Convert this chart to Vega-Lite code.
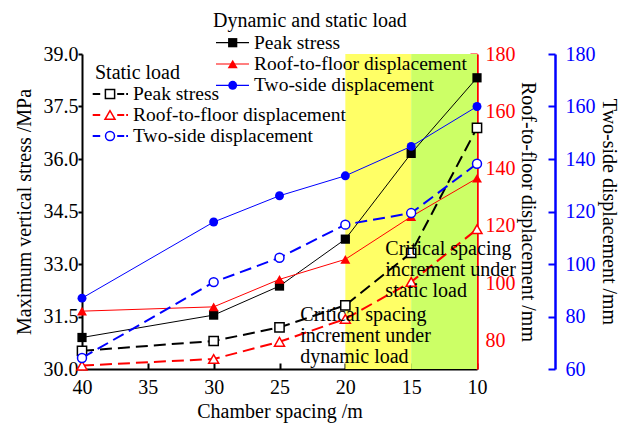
{
  "$schema": "https://vega.github.io/schema/vega-lite/v6.json",
  "width": 395,
  "height": 315,
  "autosize": {"type": "none"},
  "padding": {"left": 82, "top": 54, "right": 146, "bottom": 54},
  "background": "white",
  "config": {
    "font": "Liberation Serif",
    "view": {"stroke": null},
    "text": {"font": "Liberation Serif"},
    "axis": {
      "grid": false,
      "labelFont": "Liberation Serif",
      "titleFont": "Liberation Serif",
      "labelFontSize": 20,
      "titleFontSize": 20,
      "titleFontWeight": "normal",
      "labelColor": "black",
      "titleColor": "black",
      "domainColor": "black",
      "tickColor": "black",
      "domainWidth": 2,
      "tickWidth": 2
    }
  },
  "datasets": {
    "measurements": [
      {"spacing": 40, "load": "dynamic", "metric": "Peak stress", "value": 30.9},
      {"spacing": 30, "load": "dynamic", "metric": "Peak stress", "value": 31.54},
      {"spacing": 25, "load": "dynamic", "metric": "Peak stress", "value": 32.37},
      {"spacing": 20, "load": "dynamic", "metric": "Peak stress", "value": 33.71},
      {"spacing": 15, "load": "dynamic", "metric": "Peak stress", "value": 36.16},
      {"spacing": 10, "load": "dynamic", "metric": "Peak stress", "value": 38.32},
      {"spacing": 40, "load": "static", "metric": "Peak stress", "value": 30.52},
      {"spacing": 30, "load": "static", "metric": "Peak stress", "value": 30.8},
      {"spacing": 25, "load": "static", "metric": "Peak stress", "value": 31.19},
      {"spacing": 20, "load": "static", "metric": "Peak stress", "value": 31.82},
      {"spacing": 15, "load": "static", "metric": "Peak stress", "value": 33.32},
      {"spacing": 10, "load": "static", "metric": "Peak stress", "value": 36.89},
      {"spacing": 40, "load": "dynamic", "metric": "Roof-to-floor displacement", "value": 90.2},
      {"spacing": 30, "load": "dynamic", "metric": "Roof-to-floor displacement", "value": 91.7},
      {"spacing": 25, "load": "dynamic", "metric": "Roof-to-floor displacement", "value": 101.3},
      {"spacing": 20, "load": "dynamic", "metric": "Roof-to-floor displacement", "value": 108.3},
      {"spacing": 15, "load": "dynamic", "metric": "Roof-to-floor displacement", "value": 123.2},
      {"spacing": 10, "load": "dynamic", "metric": "Roof-to-floor displacement", "value": 136.6},
      {"spacing": 40, "load": "static", "metric": "Roof-to-floor displacement", "value": 71.2},
      {"spacing": 30, "load": "static", "metric": "Roof-to-floor displacement", "value": 73.5},
      {"spacing": 25, "load": "static", "metric": "Roof-to-floor displacement", "value": 79.5},
      {"spacing": 20, "load": "static", "metric": "Roof-to-floor displacement", "value": 87.5},
      {"spacing": 15, "load": "static", "metric": "Roof-to-floor displacement", "value": 100.4},
      {"spacing": 10, "load": "static", "metric": "Roof-to-floor displacement", "value": 118.8},
      {"spacing": 40, "load": "dynamic", "metric": "Two-side displacement", "value": 87.0},
      {"spacing": 30, "load": "dynamic", "metric": "Two-side displacement", "value": 116.0},
      {"spacing": 25, "load": "dynamic", "metric": "Two-side displacement", "value": 126.0},
      {"spacing": 20, "load": "dynamic", "metric": "Two-side displacement", "value": 133.6},
      {"spacing": 15, "load": "dynamic", "metric": "Two-side displacement", "value": 144.8},
      {"spacing": 10, "load": "dynamic", "metric": "Two-side displacement", "value": 160.0},
      {"spacing": 40, "load": "static", "metric": "Two-side displacement", "value": 64.2},
      {"spacing": 30, "load": "static", "metric": "Two-side displacement", "value": 93.1},
      {"spacing": 25, "load": "static", "metric": "Two-side displacement", "value": 102.4},
      {"spacing": 20, "load": "static", "metric": "Two-side displacement", "value": 115.0},
      {"spacing": 15, "load": "static", "metric": "Two-side displacement", "value": 119.4},
      {"spacing": 10, "load": "static", "metric": "Two-side displacement", "value": 138.2}
    ],
    "zones": [
      {"interval": "20-15 m", "from": 20, "to": 15},
      {"interval": "15-10 m", "from": 15, "to": 10}
    ]
  },
  "data": {"name": "measurements"},
  "layer": [
    {
      "data": {"name": "zones"},
      "mark": {"type": "rect"},
      "encoding": {
        "x": {
          "field": "from",
          "type": "quantitative",
          "scale": {"domain": [10, 40], "reverse": true, "nice": false, "zero": false},
          "axis": {
            "title": "Chamber spacing /m",
            "values": [40, 35, 30, 25, 20, 15, 10],
            "format": "d",
            "labelFlush": false,
            "tickSize": -6,
            "labelPadding": 14,
            "titlePadding": 4
          }
        },
        "x2": {"field": "to"},
        "color": {
          "field": "interval",
          "type": "nominal",
          "scale": {"domain": ["20-15 m", "15-10 m"], "range": ["#ffff66", "#ccff66"]},
          "legend": null
        }
      }
    },
    {
      "transform": [{"filter": "datum.metric === 'Peak stress'"}],
      "encoding": {
        "x": {"field": "spacing", "type": "quantitative", "title": "Chamber spacing /m"},
        "y": {
          "field": "value",
          "type": "quantitative",
          "scale": {"domain": [30, 39], "nice": false, "zero": false},
          "axis": {
            "title": "Maximum vertical stress /MPa",
            "orient": "left",
            "values": [30, 31.5, 33, 34.5, 36, 37.5, 39],
            "format": ".1f",
            "tickSize": 4,
            "labelPadding": 0,
            "titlePadding": 9
          }
        }
      },
      "layer": [
        {"transform": [{"filter": "datum.load === 'static'"}], "mark": {"type": "line", "color": "black", "strokeWidth": 2, "strokeDash": [12, 6]}},
        {"transform": [{"filter": "datum.load === 'dynamic'"}], "mark": {"type": "line", "color": "black", "strokeWidth": 1}},
        {"transform": [{"filter": "datum.load === 'static'"}], "mark": {"type": "point", "shape": "square", "size": 85, "fill": "white", "stroke": "black", "strokeWidth": 1.5, "opacity": 1}},
        {"transform": [{"filter": "datum.load === 'dynamic'"}], "mark": {"type": "point", "shape": "square", "size": 85, "filled": true, "color": "black", "opacity": 1}}
      ]
    },
    {
      "transform": [{"filter": "datum.metric === 'Roof-to-floor displacement'"}],
      "encoding": {
        "x": {"field": "spacing", "type": "quantitative", "title": "Chamber spacing /m"},
        "y": {
          "field": "value",
          "type": "quantitative",
          "scale": {"domain": [70, 180], "nice": false, "zero": false},
          "axis": {
            "title": "Roof-to-floor displacement /mm",
            "orient": "right",
            "values": [80, 100, 120, 140, 160, 180],
            "tickSize": -7,
            "labelPadding": 15,
            "titlePadding": 2,
            "domainColor": "red",
            "tickColor": "red",
            "labelColor": "red",
            "domainWidth": 2.5
          }
        }
      },
      "layer": [
        {"transform": [{"filter": "datum.load === 'static'"}], "mark": {"type": "line", "color": "red", "strokeWidth": 2, "strokeDash": [12, 6]}},
        {"transform": [{"filter": "datum.load === 'dynamic'"}], "mark": {"type": "line", "color": "red", "strokeWidth": 1}},
        {"transform": [{"filter": "datum.load === 'static'"}], "mark": {"type": "point", "shape": "triangle-up", "size": 100, "fill": "white", "stroke": "red", "strokeWidth": 1.5, "opacity": 1}},
        {"transform": [{"filter": "datum.load === 'dynamic'"}], "mark": {"type": "point", "shape": "triangle-up", "size": 100, "filled": true, "color": "red", "opacity": 1}}
      ]
    },
    {
      "transform": [{"filter": "datum.metric === 'Two-side displacement'"}],
      "encoding": {
        "x": {"field": "spacing", "type": "quantitative", "title": "Chamber spacing /m"},
        "y": {
          "field": "value",
          "type": "quantitative",
          "scale": {"domain": [60, 180], "nice": false, "zero": false},
          "axis": {
            "title": "Two-side displacement /mm",
            "orient": "right",
            "offset": 78,
            "values": [60, 80, 100, 120, 140, 160, 180],
            "tickSize": -7,
            "labelPadding": 17,
            "titlePadding": 3,
            "domainColor": "blue",
            "tickColor": "blue",
            "labelColor": "blue",
            "domainWidth": 2.5
          }
        }
      },
      "layer": [
        {"transform": [{"filter": "datum.load === 'static'"}], "mark": {"type": "line", "color": "blue", "strokeWidth": 2, "strokeDash": [12, 6]}},
        {"transform": [{"filter": "datum.load === 'dynamic'"}], "mark": {"type": "line", "color": "blue", "strokeWidth": 1}},
        {"transform": [{"filter": "datum.load === 'static'"}], "mark": {"type": "point", "shape": "circle", "size": 80, "fill": "white", "stroke": "blue", "strokeWidth": 1.5, "opacity": 1}},
        {"transform": [{"filter": "datum.load === 'dynamic'"}], "mark": {"type": "point", "shape": "circle", "size": 80, "filled": true, "color": "blue", "opacity": 1}}
      ]
    },
    {
      "data": {"values": [{"note": "critical spacing increments"}]},
      "layer": [
        {
          "mark": {"type": "text", "text": ["Critical spacing", "increment under", "static load"], "align": "left", "baseline": "top", "fontSize": 20, "lineHeight": 21, "fill": "black"},
          "encoding": {
            "x": {"datum": 16.96, "type": "quantitative", "title": "Chamber spacing /m"},
            "y": {"datum": 33.72, "type": "quantitative", "scale": {"domain": [30, 39], "nice": false, "zero": false}, "axis": null}
          }
        },
        {
          "mark": {"type": "text", "text": ["Critical spacing", "increment under", "dynamic load"], "align": "left", "baseline": "top", "fontSize": 20, "lineHeight": 21, "fill": "black"},
          "encoding": {
            "x": {"datum": 23.42, "type": "quantitative", "title": "Chamber spacing /m"},
            "y": {"datum": 31.83, "type": "quantitative", "scale": {"domain": [30, 39], "nice": false, "zero": false}, "axis": null}
          }
        },
        {
          "mark": {"type": "text", "text": "Dynamic and static load", "align": "left", "baseline": "middle", "fontSize": 20, "fill": "black"},
          "encoding": {
            "x": {"datum": 30.05, "type": "quantitative", "title": "Chamber spacing /m"},
            "y": {"datum": 39.951, "type": "quantitative", "scale": {"domain": [30, 39], "nice": false, "zero": false}, "axis": null}
          }
        },
        {
          "mark": {"type": "rule", "color": "black", "strokeWidth": 1.2},
          "encoding": {
            "x": {"datum": 29.823, "type": "quantitative", "title": "Chamber spacing /m"},
            "x2": {"datum": 27.317},
            "y": {"datum": 39.323, "type": "quantitative", "scale": {"domain": [30, 39], "nice": false, "zero": false}, "axis": null}
          }
        },
        {
          "mark": {"type": "point", "shape": "square", "size": 85, "filled": true, "color": "black", "opacity": 1},
          "encoding": {
            "x": {"datum": 28.555, "type": "quantitative", "title": "Chamber spacing /m"},
            "y": {"datum": 39.323, "type": "quantitative", "scale": {"domain": [30, 39], "nice": false, "zero": false}, "axis": null}
          }
        },
        {
          "mark": {"type": "text", "text": "Peak stress", "align": "left", "baseline": "middle", "fontSize": 19.5, "fill": "black"},
          "encoding": {
            "x": {"datum": 26.937, "type": "quantitative", "title": "Chamber spacing /m"},
            "y": {"datum": 39.323, "type": "quantitative", "scale": {"domain": [30, 39], "nice": false, "zero": false}, "axis": null}
          }
        },
        {
          "mark": {"type": "rule", "color": "red", "strokeWidth": 1.2},
          "encoding": {
            "x": {"datum": 29.823, "type": "quantitative", "title": "Chamber spacing /m"},
            "x2": {"datum": 27.317},
            "y": {"datum": 38.714, "type": "quantitative", "scale": {"domain": [30, 39], "nice": false, "zero": false}, "axis": null}
          }
        },
        {
          "mark": {"type": "point", "shape": "triangle-up", "size": 100, "filled": true, "color": "red", "opacity": 1},
          "encoding": {
            "x": {"datum": 28.555, "type": "quantitative", "title": "Chamber spacing /m"},
            "y": {"datum": 38.714, "type": "quantitative", "scale": {"domain": [30, 39], "nice": false, "zero": false}, "axis": null}
          }
        },
        {
          "mark": {"type": "text", "text": "Roof-to-floor displacement", "align": "left", "baseline": "middle", "fontSize": 19.5, "fill": "black"},
          "encoding": {
            "x": {"datum": 26.937, "type": "quantitative", "title": "Chamber spacing /m"},
            "y": {"datum": 38.714, "type": "quantitative", "scale": {"domain": [30, 39], "nice": false, "zero": false}, "axis": null}
          }
        },
        {
          "mark": {"type": "rule", "color": "blue", "strokeWidth": 1.2},
          "encoding": {
            "x": {"datum": 29.823, "type": "quantitative", "title": "Chamber spacing /m"},
            "x2": {"datum": 27.317},
            "y": {"datum": 38.106, "type": "quantitative", "scale": {"domain": [30, 39], "nice": false, "zero": false}, "axis": null}
          }
        },
        {
          "mark": {"type": "point", "shape": "circle", "size": 80, "filled": true, "color": "blue", "opacity": 1},
          "encoding": {
            "x": {"datum": 28.555, "type": "quantitative", "title": "Chamber spacing /m"},
            "y": {"datum": 38.106, "type": "quantitative", "scale": {"domain": [30, 39], "nice": false, "zero": false}, "axis": null}
          }
        },
        {
          "mark": {"type": "text", "text": "Two-side displacement", "align": "left", "baseline": "middle", "fontSize": 19.5, "fill": "black"},
          "encoding": {
            "x": {"datum": 26.937, "type": "quantitative", "title": "Chamber spacing /m"},
            "y": {"datum": 38.106, "type": "quantitative", "scale": {"domain": [30, 39], "nice": false, "zero": false}, "axis": null}
          }
        },
        {
          "mark": {"type": "text", "text": "Static load", "align": "left", "baseline": "middle", "fontSize": 20, "fill": "black"},
          "encoding": {
            "x": {"datum": 39.013, "type": "quantitative", "title": "Chamber spacing /m"},
            "y": {"datum": 38.466, "type": "quantitative", "scale": {"domain": [30, 39], "nice": false, "zero": false}, "axis": null}
          }
        },
        {
          "mark": {"type": "rule", "color": "black", "strokeWidth": 2, "strokeDash": [7.5, 17, 7, 2, 2]},
          "encoding": {
            "x": {"datum": 39.187, "type": "quantitative", "title": "Chamber spacing /m"},
            "x2": {"datum": 36.506},
            "y": {"datum": 37.857, "type": "quantitative", "scale": {"domain": [30, 39], "nice": false, "zero": false}, "axis": null}
          }
        },
        {
          "mark": {"type": "point", "shape": "square", "size": 85, "fill": "white", "stroke": "black", "strokeWidth": 1.5, "opacity": 1},
          "encoding": {
            "x": {"datum": 37.873, "type": "quantitative", "title": "Chamber spacing /m"},
            "y": {"datum": 37.857, "type": "quantitative", "scale": {"domain": [30, 39], "nice": false, "zero": false}, "axis": null}
          }
        },
        {
          "mark": {"type": "text", "text": "Peak stress", "align": "left", "baseline": "middle", "fontSize": 19.5, "fill": "black"},
          "encoding": {
            "x": {"datum": 36.127, "type": "quantitative", "title": "Chamber spacing /m"},
            "y": {"datum": 37.857, "type": "quantitative", "scale": {"domain": [30, 39], "nice": false, "zero": false}, "axis": null}
          }
        },
        {
          "mark": {"type": "rule", "color": "red", "strokeWidth": 2, "strokeDash": [7.5, 17, 7, 2, 2]},
          "encoding": {
            "x": {"datum": 39.187, "type": "quantitative", "title": "Chamber spacing /m"},
            "x2": {"datum": 36.506},
            "y": {"datum": 37.257, "type": "quantitative", "scale": {"domain": [30, 39], "nice": false, "zero": false}, "axis": null}
          }
        },
        {
          "mark": {"type": "point", "shape": "triangle-up", "size": 100, "fill": "white", "stroke": "red", "strokeWidth": 1.5, "opacity": 1},
          "encoding": {
            "x": {"datum": 37.873, "type": "quantitative", "title": "Chamber spacing /m"},
            "y": {"datum": 37.257, "type": "quantitative", "scale": {"domain": [30, 39], "nice": false, "zero": false}, "axis": null}
          }
        },
        {
          "mark": {"type": "text", "text": "Roof-to-floor displacement", "align": "left", "baseline": "middle", "fontSize": 19.5, "fill": "black"},
          "encoding": {
            "x": {"datum": 36.127, "type": "quantitative", "title": "Chamber spacing /m"},
            "y": {"datum": 37.257, "type": "quantitative", "scale": {"domain": [30, 39], "nice": false, "zero": false}, "axis": null}
          }
        },
        {
          "mark": {"type": "rule", "color": "blue", "strokeWidth": 2, "strokeDash": [7.5, 17, 7, 2, 2]},
          "encoding": {
            "x": {"datum": 39.187, "type": "quantitative", "title": "Chamber spacing /m"},
            "x2": {"datum": 36.506},
            "y": {"datum": 36.657, "type": "quantitative", "scale": {"domain": [30, 39], "nice": false, "zero": false}, "axis": null}
          }
        },
        {
          "mark": {"type": "point", "shape": "circle", "size": 80, "fill": "white", "stroke": "blue", "strokeWidth": 1.5, "opacity": 1},
          "encoding": {
            "x": {"datum": 37.873, "type": "quantitative", "title": "Chamber spacing /m"},
            "y": {"datum": 36.657, "type": "quantitative", "scale": {"domain": [30, 39], "nice": false, "zero": false}, "axis": null}
          }
        },
        {
          "mark": {"type": "text", "text": "Two-side displacement", "align": "left", "baseline": "middle", "fontSize": 19.5, "fill": "black"},
          "encoding": {
            "x": {"datum": 36.127, "type": "quantitative", "title": "Chamber spacing /m"},
            "y": {"datum": 36.657, "type": "quantitative", "scale": {"domain": [30, 39], "nice": false, "zero": false}, "axis": null}
          }
        }
      ]
    }
  ],
  "resolve": {"scale": {"y": "independent"}}
}
